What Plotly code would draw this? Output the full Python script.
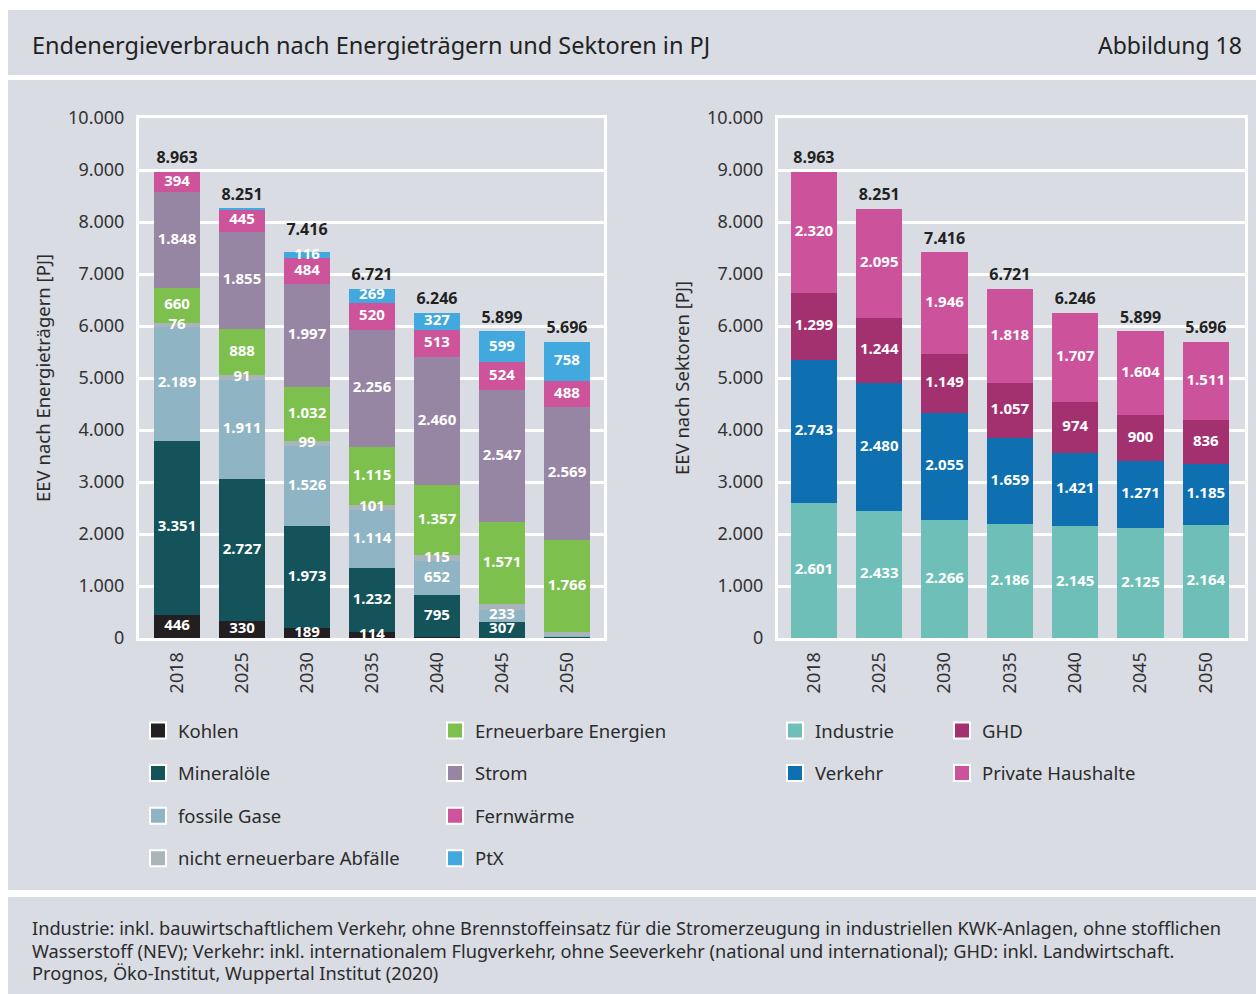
import plotly.graph_objects as go

# ---------------- data ----------------
years = ["2018", "2025", "2030", "2035", "2040", "2045", "2050"]

# Endenergieverbrauch nach Energieträgern [PJ]
kohlen = [446, 330, 189, 114, 27, 8, 5]
mineraloele = [3351, 2727, 1973, 1232, 795, 307, 15]
fossile_gase = [2189, 1911, 1526, 1114, 652, 233, 25]
abfaelle = [76, 91, 99, 101, 115, 110, 70]
erneuerbare = [660, 888, 1032, 1115, 1357, 1571, 1766]
strom = [1848, 1855, 1997, 2256, 2460, 2547, 2569]
fernwaerme = [394, 445, 484, 520, 513, 524, 488]
ptx = [0, 4, 116, 269, 327, 599, 758]
totals_traeger = [8963, 8251, 7416, 6721, 6246, 5899, 5696]

# Endenergieverbrauch nach Sektoren [PJ]
industrie = [2601, 2433, 2266, 2186, 2145, 2125, 2164]
verkehr = [2743, 2480, 2055, 1659, 1421, 1271, 1185]
ghd = [1299, 1244, 1149, 1057, 974, 900, 836]
haushalte = [2320, 2095, 1946, 1818, 1707, 1604, 1511]
totals_sektoren = [8963, 8251, 7416, 6721, 6246, 5899, 5696]

y_ticks = [0, 1000, 2000, 3000, 4000, 5000, 6000, 7000, 8000, 9000, 10000]

title_text = "Endenergieverbrauch nach Energieträgern und Sektoren in PJ"
fig_label = "Abbildung 18"
footer_lines = [
    "Industrie: inkl. bauwirtschaftlichem Verkehr, ohne Brennstoffeinsatz für die Stromerzeugung in industriellen KWK-Anlagen, ohne stofflichen",
    "Wasserstoff (NEV); Verkehr: inkl. internationalem Flugverkehr, ohne Seeverkehr (national und international); GHD: inkl. Landwirtschaft.",
    "Prognos, Öko-Institut, Wuppertal Institut (2020)",
]

# ---------------- style ----------------
W, H = 1256, 994
FONT = "Noto Sans"
BG = "#d9dce3"
TXT = "#2b2b2b"


def px_x(p):
    return p / W


def px_y(p):
    return 1 - p / H


def fmt(v):
    return f"{v:,}".replace(",", ".")


def labels(vals, hide=()):
    return [fmt(v) if (v >= 60 and i not in hide) else "" for i, v in enumerate(vals)]


left_series = [
    ("Kohlen", kohlen, "#231f20", ()),
    ("Mineralöle", mineraloele, "#14535a", ()),
    ("fossile Gase", fossile_gase, "#8fb5c4", ()),
    ("nicht erneuerbare Abfälle", abfaelle, "#a9b4bb", (5, 6)),
    ("Erneuerbare Energien", erneuerbare, "#7dc04e", ()),
    ("Strom", strom, "#9685a3", ()),
    ("Fernwärme", fernwaerme, "#cd549a", ()),
    ("PtX", ptx, "#41a9dd", ()),
]
right_series = [
    ("Industrie", industrie, "#6ebfb8", ()),
    ("Verkehr", verkehr, "#0e70b0", ()),
    ("GHD", ghd, "#a33170", ()),
    ("Private Haushalte", haushalte, "#cc539b", ()),
]

fig = go.Figure()

BAR_W = 0.71
seg_font = dict(family=FONT, size=15, color="white", weight="bold")
tot_font = dict(family=FONT, size=16, color="#222222", weight="bold")
THIN_TOP = 200      # PJ: a labelled top segment thinner than this lifts the total label
LIFT = 170          # PJ


def add_chart(series, totals, xa, ya):
    base = [0] * len(years)
    label_traces = []
    top_info = [(0, "")] * len(years)
    for name, vals, col, hide in series:
        fig.add_trace(go.Bar(
            x=years, y=vals, name=name, marker=dict(color=col, line=dict(width=0)),
            width=BAR_W, showlegend=False, xaxis=xa, yaxis=ya,
            hovertemplate=name + " %{x}: %{y:,.0f} PJ<extra></extra>"))
        txt = labels(vals, hide)
        mids = [b + v / 2 for b, v in zip(base, vals)]
        label_traces.append(go.Scatter(
            x=years, y=mids, mode="text", text=txt, textposition="middle center",
            textfont=seg_font, cliponaxis=False, showlegend=False, hoverinfo="skip",
            xaxis=xa, yaxis=ya))
        top_info = [(v, t) if v > 0 else ti for v, t, ti in zip(vals, txt, top_info)]
        base = [b + v for b, v in zip(base, vals)]
    for tr in label_traces:
        fig.add_trace(tr)
    tot_y = [t + (LIFT if (lbl and v < THIN_TOP) else 0) for t, (v, lbl) in zip(totals, top_info)]
    fig.add_trace(go.Scatter(
        x=years, y=tot_y, mode="markers+text", text=[fmt(v) for v in totals],
        marker=dict(size=6, color="rgba(0,0,0,0)"),
        textposition="top center", textfont=tot_font, cliponaxis=False,
        showlegend=False, hoverinfo="skip", xaxis=xa, yaxis=ya))


add_chart(left_series, totals_traeger, "x", "y")
add_chart(right_series, totals_sektoren, "x2", "y2")

# legend entries (square swatches with white border)
legend_map = [
    ("legend", left_series[:4]),
    ("legend2", left_series[4:]),
    ("legend3", right_series[:2]),
    ("legend4", right_series[2:]),
]
for lg, items in legend_map:
    for it in items:
        name, col = it[0], it[2]
        fig.add_trace(go.Scatter(
            x=[None], y=[None], mode="markers", name=name, legend=lg, legendgroup=name,
            marker=dict(symbol="square", size=16, color=col, line=dict(color="white", width=2)),
            xaxis="x", yaxis="y", hoverinfo="skip"))

leg_common = dict(xanchor="left", yanchor="top", bgcolor="rgba(0,0,0,0)",
                  font=dict(family=FONT, size=18.5, color=TXT), tracegroupgap=15.5,
                  itemsizing="trace", orientation="v")
legend_top = px_y(712)

axis_common_x = dict(type="category", tickangle=-90, tickfont=dict(family=FONT, size=18, color="#333333"),
                     showline=True, linecolor="white", linewidth=3, mirror=True, showgrid=False,
                     ticks="", ticklabelstandoff=4, fixedrange=True)
axis_common_y = dict(range=[0, 10000], tickvals=y_ticks, tickformat=",.0f",
                     tickfont=dict(family=FONT, size=18, color="#333333"),
                     showline=True, linecolor="white", linewidth=3, mirror=True,
                     showgrid=True, gridcolor="white", gridwidth=2.5, zeroline=False,
                     ticks="", ticklabelstandoff=8, fixedrange=True)

annotations = [
    dict(text=title_text, xref="paper", yref="paper", x=px_x(30), y=px_y(45),
         xanchor="left", yanchor="middle", showarrow=False,
         font=dict(family=FONT, size=23.5, color="#222222")),
    dict(text=fig_label, xref="paper", yref="paper", x=px_x(1244), y=px_y(45),
         xanchor="right", yanchor="middle", showarrow=False,
         font=dict(family=FONT, size=23, color="#222222")),
]
for i, line in enumerate(footer_lines):
    annotations.append(dict(text=line, xref="paper", yref="paper", x=px_x(30), y=px_y(928 + 22.5 * i),
                            xanchor="left", yanchor="middle", align="left", showarrow=False,
                            font=dict(family=FONT, size=18.2, color=TXT)))

fig.update_layout(
    width=W, height=H,
    margin=dict(l=0, r=0, t=0, b=0, autoexpand=False),
    paper_bgcolor="white", plot_bgcolor=BG,
    separators=",.",
    barmode="stack",
    font=dict(family=FONT, color=TXT),
    showlegend=True,
    xaxis=dict(domain=[px_x(139), px_x(604)], range=[-0.585, 6.57], anchor="y", **axis_common_x),
    yaxis=dict(domain=[px_y(638), px_y(118)], anchor="x",
               title=dict(text="EEV nach Energieträgern [PJ]", font=dict(family=FONT, size=18.5, color=TXT), standoff=13),
               **axis_common_y),
    xaxis2=dict(domain=[px_x(778), px_x(1245)], range=[-0.55, 6.6], anchor="y2", **axis_common_x),
    yaxis2=dict(domain=[px_y(638), px_y(118)], anchor="x2",
                title=dict(text="EEV nach Sektoren [PJ]", font=dict(family=FONT, size=18.5, color=TXT), standoff=13),
                **axis_common_y),
    legend=dict(x=px_x(138), y=legend_top, **leg_common),
    legend2=dict(x=px_x(435), y=legend_top, **leg_common),
    legend3=dict(x=px_x(775), y=legend_top, **leg_common),
    legend4=dict(x=px_x(942), y=legend_top, **leg_common),
    shapes=[
        dict(type="rect", xref="paper", yref="paper", x0=px_x(8), x1=1, y0=px_y(75), y1=px_y(10),
             fillcolor=BG, line=dict(width=0), layer="below"),
        dict(type="rect", xref="paper", yref="paper", x0=px_x(8), x1=1, y0=px_y(890), y1=px_y(80),
             fillcolor=BG, line=dict(width=0), layer="below"),
        dict(type="rect", xref="paper", yref="paper", x0=px_x(8), x1=1, y0=0, y1=px_y(897),
             fillcolor=BG, line=dict(width=0), layer="below"),
    ],
    annotations=annotations,
)

fig.write_html("out.html", config={"displayModeBar": False},
               post_script="document.body.style.margin='0';")
